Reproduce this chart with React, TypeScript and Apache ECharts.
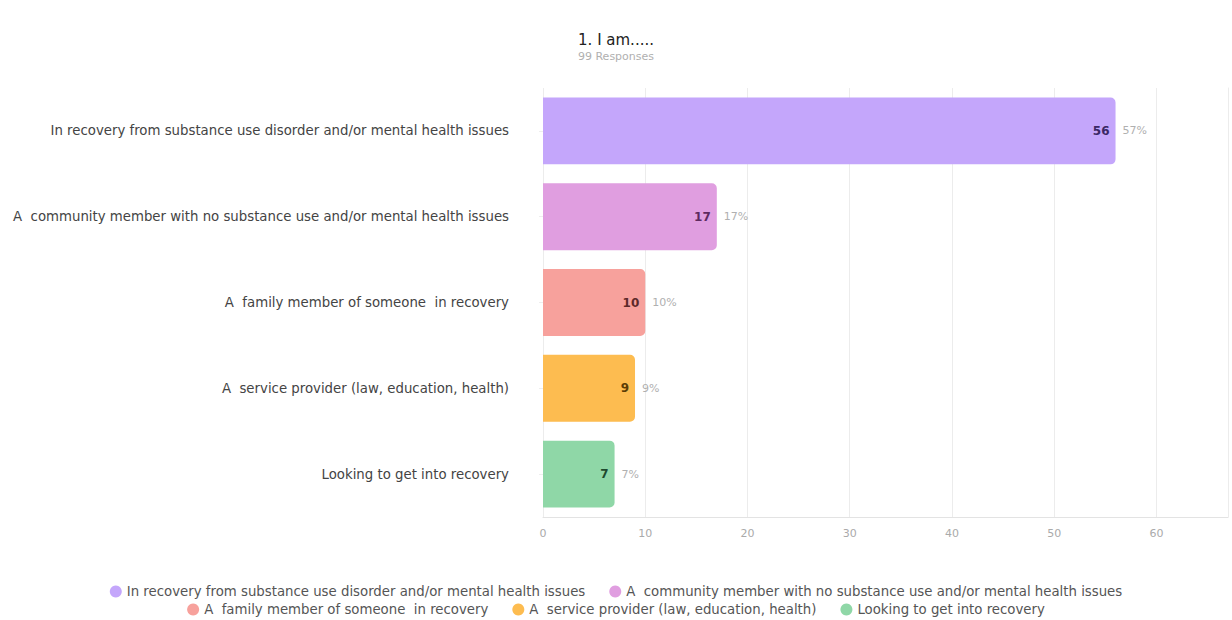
import React, { useEffect, useRef } from "react";
import * as echarts from "echarts";

const categories = [
  "In recovery from substance use disorder and/or mental health issues",
  "A  community member with no substance use and/or mental health issues",
  "A  family member of someone  in recovery",
  "A  service provider (law, education, health)",
  "Looking to get into recovery",
];
const values = [56, 17, 10, 9, 7];
const colors = ["#c4a6fb", "#e09ee0", "#f7a19c", "#fdbc50", "#8fd7a7"];
const labelColors = ["#3b2866", "#5e2a60", "#5e2a2a", "#5a3c05", "#1e4a2e"];
const xTicks = [0, 10, 20, 30, 40, 50, 60];
const titleText = "1. I am.....";

const FONT = "DejaVu Sans";

export default function App() {
  const ref = useRef<HTMLDivElement>(null);
  useEffect(() => {
    if (!ref.current) return;
    const chart = echarts.init(ref.current, undefined, { renderer: "svg" });
    const total = values.reduce((a, b) => a + b, 0);
    const catSeries = categories.map((name, i) => ({
      name,
      type: "bar",
      stack: "main",
      barWidth: "78%",
      data: values.map((v, j) => (j === i ? v : "-")),
      itemStyle: { color: colors[i], borderRadius: [0, 5, 5, 0] },
      label: {
        show: true,
        position: "insideRight",
        distance: 6,
        color: labelColors[i],
        fontWeight: "bold",
        fontSize: 12,
        fontFamily: FONT,
      },
    }));
    const pctSeries = {
      name: "pct",
      type: "bar",
      barGap: "-100%",
      barWidth: "78%",
      silent: true,
      data: values,
      itemStyle: { color: "rgba(0,0,0,0)" },
      label: {
        show: true,
        position: "right",
        distance: 7,
        color: "#b0b0b0",
        fontSize: 11,
        fontFamily: FONT,
        formatter: (p: any) => `${Math.round((p.value / total) * 100)}%`,
      },
    };
    const legendBase = {
      left: "center",
      padding: 0,
      icon: "circle",
      itemWidth: 12,
      itemHeight: 12,
      itemGap: 24,
      textStyle: { fontFamily: FONT, fontSize: 13.3, color: "#555" },
    };
    chart.setOption({
      animation: false,
      title: {
        text: titleText,
        subtext: `${total} Responses`,
        left: "center",
        top: 32,
        padding: 0,
        itemGap: 4,
        textStyle: { fontFamily: FONT, fontSize: 15, fontWeight: "normal", color: "#222" },
        subtextStyle: { fontFamily: FONT, fontSize: 11, color: "#b0b0b0" },
      },
      legend: [
        { ...legendBase, data: categories.slice(0, 2), top: 585 },
        { ...legendBase, data: categories.slice(2), top: 603 },
      ],
      grid: { left: 543, right: 4, top: 88, bottom: 103 },
      xAxis: {
        type: "value",
        min: 0,
        max: 67,
        interval: 10,
        axisLine: { show: true, lineStyle: { color: "#e3e3e3" } },
        axisTick: { show: false },
        splitLine: { show: true, lineStyle: { color: "#ececec" } },
        axisLabel: {
          color: "#aaa",
          fontSize: 11,
          fontFamily: FONT,
          margin: 11,
          customValues: xTicks,
        },
      },
      yAxis: [
        {
          type: "category",
          data: categories,
          inverse: true,
          axisLine: { show: false },
          axisTick: { show: true, length: 4, lineStyle: { color: "#eeeeee" }, alignWithLabel: true },
          axisLabel: { color: "#444", fontSize: 13.3, fontFamily: FONT, margin: 34 },
        },
        {
          type: "category",
          data: categories,
          inverse: true,
          position: "right",
          axisLine: { show: true, lineStyle: { color: "#ececec" } },
          axisTick: { show: false },
          axisLabel: { show: false },
        },
      ],
      series: [...catSeries, pctSeries],
    });
    return () => chart.dispose();
  }, []);
  return (
    <div
      ref={ref}
      style={{ position: "fixed", left: 0, top: 0, width: 1232, height: 620, background: "#fff" }}
    />
  );
}
